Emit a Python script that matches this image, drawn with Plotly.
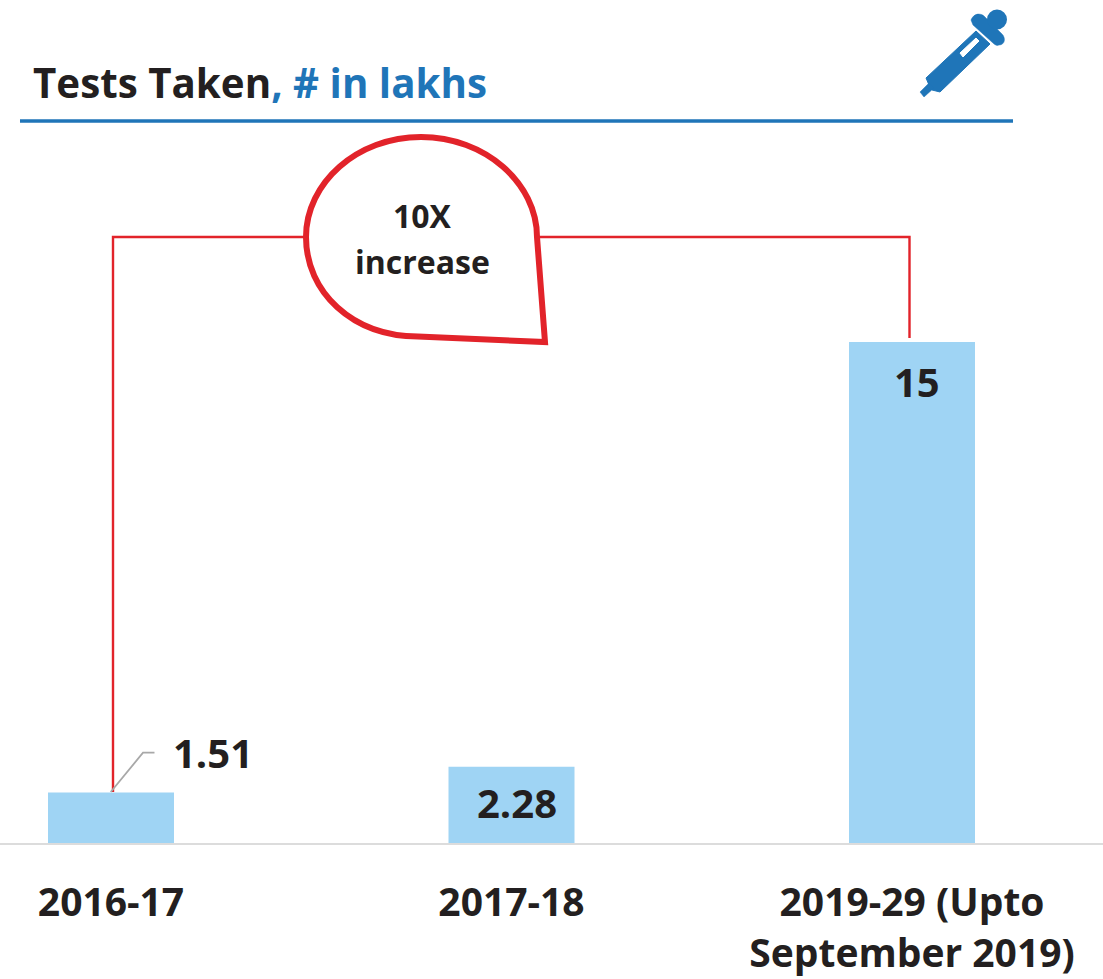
import plotly.graph_objects as go

categories = ["2016-17", "2017-18", "2019-29 (Upto<br>September 2019)"]
tests_taken = [1.51, 2.28, 15]
value_labels = ["1.51", "2.28", "15"]
title_main = "Tests Taken"
title_unit = ", # in lakhs"
callout_lines = ["10X", "increase"]

W, H = 1103, 979
DARK = "#231f20"
BLUE = "#1f75b8"
RED = "#e2232a"
BAR = "#9fd4f4"
FONT = "Open Sans"


def X(x):
    return x / W


def Y(y):
    return 1 - y / H


def path(cmds):
    out = []
    for c in cmds:
        nums = c[1:]
        pts = [f"{X(nums[i]):.5f},{Y(nums[i + 1]):.5f}" for i in range(0, len(nums), 2)]
        out.append(c[0] + " ".join(pts))
    return " ".join(out) + ""


def shape_path(cmds, close=False, **kw):
    p = path(cmds) + (" Z" if close else "")
    return dict(type="path", xref="paper", yref="paper", path=p, **kw)


fig = go.Figure(
    go.Bar(x=[0, 1, 2], y=tests_taken, width=0.3146, marker=dict(color=BAR, line_width=0), hoverinfo="skip")
)

shapes = [
    # header rule
    shape_path([("M", 20, 121), ("L", 1013, 121)], line=dict(color=BLUE, width=3.5)),
    # bracket
    shape_path([("M", 113, 792), ("L", 113, 237), ("L", 305, 237)], line=dict(color=RED, width=2.4)),
    shape_path([("M", 537, 237), ("L", 909.5, 237), ("L", 909.5, 338)], line=dict(color=RED, width=2.4)),
    # leader
    shape_path([("M", 110.7, 792), ("L", 143, 752.7), ("L", 154.5, 752.7)], line=dict(color="#a8a8a8", width=1.8)),
    # callout bubble
    shape_path(
        [
            ("M", 537, 237),
            ("C", 537, 183, 485, 137, 421, 137),
            ("C", 357, 137, 306, 183, 306, 237),
            ("C", 306, 292, 352, 336, 418, 336.5),
            ("L", 545, 342),
            ("L", 537, 237),
        ],
        close=True,
        line=dict(color=RED, width=6),
        fillcolor="white",
    ),
    # dropper icon
    shape_path(
        [("M", 926, 78), ("L", 976, 31), ("L", 990, 44), ("L", 940, 92), ("L", 932, 90), ("L", 929, 85)],
        close=True, line=dict(color=BLUE, width=1), fillcolor=BLUE,
    ),
    shape_path(
        [("M", 920, 92), ("L", 929, 83), ("L", 934, 88), ("L", 924, 97)],
        close=True, line=dict(color=BLUE, width=0.5), fillcolor=BLUE,
    ),
    shape_path(
        [("M", 971, 20), ("C", 974, 13, 980, 13, 984, 16), ("L", 1002, 34), ("C", 1006, 38, 1005, 45, 999, 45),
         ("C", 997, 46, 995, 45, 993, 43), ("L", 973, 25)],
        close=True, line=dict(color=BLUE, width=0.5), fillcolor=BLUE,
    ),
    dict(type="circle", xref="paper", yref="paper", x0=X(987), x1=X(1007), y0=Y(9.5), y1=Y(29.5),
         line=dict(color=BLUE, width=0), fillcolor=BLUE),
    shape_path(
        [("M", 960, 53), ("L", 976, 38), ("L", 979, 41), ("L", 963, 57)],
        close=True, line=dict(color="white", width=1), fillcolor="white",
    ),
]

annotations = [
    dict(
        xref="paper", yref="paper", x=X(31), y=Y(82), xanchor="left", yanchor="middle", showarrow=False,
        text=f'<span style="color:{DARK}">{title_main}</span><span style="color:{BLUE}">{title_unit}</span>',
        font=dict(family=FONT, size=40.3, color=DARK, weight="bold"),
    ),
]
for line, yp in zip(callout_lines, [216, 261]):
    annotations.append(dict(
        xref="paper", yref="paper", x=X(422), y=Y(yp), xanchor="center", yanchor="middle", showarrow=False,
        text=line, font=dict(family=FONT, size=32, color=DARK, weight="bold"),
    ))
label_shift = [(102, 40), (5, -36), (5, -39)]
for i, (v, t) in enumerate(zip(tests_taken, value_labels)):
    annotations.append(dict(
        x=i, y=v, xref="x", yref="y", text=t, showarrow=False, xanchor="center", yanchor="middle",
        xshift=label_shift[i][0], yshift=label_shift[i][1],
        font=dict(family=FONT, size=40, color=DARK, weight="bold"),
    ))

fig.update_layout(
    width=W, height=H, autosize=False, margin=dict(l=0, r=0, t=0, b=0, pad=0),
    paper_bgcolor="white", plot_bgcolor="white", showlegend=False,
    shapes=shapes, annotations=annotations,
    xaxis=dict(
        domain=[0, 1], range=[-111 / 400.5, (W - 111) / 400.5], tickmode="array", tickvals=[0, 1, 2],
        ticktext=categories, showgrid=False, zeroline=False, showline=True, linecolor="#dcdcdc", linewidth=2,
        ticks="outside", ticklen=24, tickcolor="rgba(0,0,0,0)", tickangle=0, automargin=False,
        tickfont=dict(family=FONT, size=39, color=DARK, weight="bold"),
    ),
    yaxis=dict(domain=[(H - 843) / H, 1], range=[0, 843 / 33.4], visible=False, automargin=False),
)
fig.write_html("out.html", config=dict(displayModeBar=False), post_script="document.body.style.margin='0';")
